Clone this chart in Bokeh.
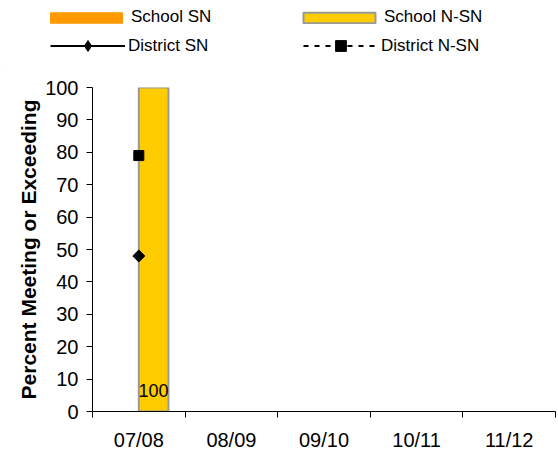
import numpy as np
from bokeh.plotting import figure
from bokeh.layouts import column
from bokeh.models import (Range1d, FixedTicker, ColumnDataSource, Legend, LegendItem)
from bokeh.core.properties import value
from bokeh.embed import file_html
from bokeh.resources import INLINE

# ---- data ----
categories = ["07/08", "08/09", "09/10", "10/11", "11/12"]
school_sn = [np.nan, np.nan, np.nan, np.nan, np.nan]
school_nsn = [100, np.nan, np.nan, np.nan, np.nan]
district_sn = [48, np.nan, np.nan, np.nan, np.nan]
district_nsn = [79, np.nan, np.nan, np.nan, np.nan]
y_ticks = [0, 10, 20, 30, 40, 50, 60, 70, 80, 90, 100]
series_names = ["School SN", "School N-SN", "District SN", "District N-SN"]

FONT = "Liberation Sans"
SN_COLOR = "#FF9900"
NSN_COLOR = "#FFCC00"
NSN_LINE = "#999999"

idx = np.arange(len(categories))
centers = idx + 0.5
bar_w = 0.32

# ---------------- main chart ----------------
p = figure(width=558, height=386, output_backend="svg", toolbar_location=None,
           x_range=Range1d(0, len(categories)), y_range=Range1d(0, 100),
           min_border_left=92, min_border_right=3, min_border_top=17, min_border_bottom=45)
p.outline_line_color = None
p.xgrid.visible = False
p.ygrid.visible = False

src = ColumnDataSource(dict(
    x_sn=centers - bar_w / 2, x_nsn=centers + bar_w / 2, xc=centers,
    sn=school_sn, nsn=school_nsn, dsn=district_sn, dnsn=district_nsn,
    lbl=["" if np.isnan(v) else str(int(v)) for v in school_nsn],
    lbl_y=[0 if not np.isnan(v) else np.nan for v in school_nsn],
))

bar_sn = dict(fill_color=SN_COLOR, line_color=SN_COLOR, line_width=1)
bar_nsn = dict(fill_color=NSN_COLOR, line_color=NSN_LINE, line_width=2)
line_sn = dict(line_color="black", line_width=2)
line_nsn = dict(line_color="black", line_width=2, line_dash="5 6")

p.vbar(x="x_sn", top="sn", bottom=0, width=bar_w, source=src, **bar_sn)
p.vbar(x="x_nsn", top="nsn", bottom=0, width=bar_w, source=src, **bar_nsn)

p.text(x="x_nsn", y="lbl_y", text="lbl", source=src, text_align="center",
       text_baseline="alphabetic", y_offset=-21, text_font=value(FONT),
       text_font_size="18px", text_color="black")

p.line(x="xc", y="dsn", source=src, **line_sn)
p.scatter(x="xc", y="dsn", source=src, marker="square", angle=np.pi / 4,
          size=8.5, fill_color="black", line_color="black")
p.line(x="xc", y="dnsn", source=src, **line_nsn)
p.scatter(x="xc", y="dnsn", source=src, marker="square", size=10,
          fill_color="black", line_color="black")

xa = p.xaxis[0]
xa.ticker = FixedTicker(ticks=list(centers), minor_ticks=list(range(len(categories) + 1)))
xa.major_label_overrides = {float(c): cat for c, cat in zip(centers, categories)}
xa.major_tick_line_color = None
xa.major_tick_out = 0
xa.major_tick_in = 0
xa.minor_tick_line_color = "black"
xa.minor_tick_out = 6
xa.minor_tick_in = 0
xa.major_label_standoff = 11
xa.major_label_text_font = FONT
xa.major_label_text_font_size = "20px"
xa.major_label_text_color = "black"
xa.axis_line_color = "black"

ya = p.yaxis[0]
ya.ticker = FixedTicker(ticks=y_ticks)
ya.major_tick_out = 6
ya.major_tick_in = 0
ya.minor_tick_line_color = None
ya.major_label_standoff = 8
ya.major_label_text_font = FONT
ya.major_label_text_font_size = "20px"
ya.major_label_text_color = "black"
ya.axis_label = "Percent Meeting or Exceeding"
ya.axis_label_text_font = FONT
ya.axis_label_text_font_style = "bold"
ya.axis_label_text_font_size = "21px"
ya.axis_label_text_color = "black"
ya.axis_label_standoff = 2

# ---------------- legend strip ----------------
lg = figure(width=558, height=70, output_backend="svg", toolbar_location=None,
            x_range=Range1d(0, 1), y_range=Range1d(0, 1),
            x_axis_location=None, y_axis_location=None,
            min_border_left=0, min_border_right=0, min_border_top=0, min_border_bottom=0)
lg.outline_line_color = None
lg.xgrid.visible = False
lg.ygrid.visible = False
for plot in (lg, p):
    try:
        plot.frame_align = False
    except Exception:
        pass
# legend keys only: one point placed outside the visible range
keysrc = ColumnDataSource(dict(x=[-5], y=[-5], top=[-5]))
g_sn = lg.vbar(x="x", top="top", width=0.1, source=keysrc, **bar_sn)
g_nsn = lg.vbar(x="x", top="top", width=0.1, source=keysrc, **bar_nsn)
g_l1 = lg.line(x="x", y="y", source=keysrc, **line_sn)
g_m1 = lg.scatter(x="x", y="y", source=keysrc, marker="diamond", color="black")
g_l2 = lg.line(x="x", y="y", source=keysrc, **line_nsn)
g_m2 = lg.scatter(x="x", y="y", source=keysrc, marker="square", color="black")

common = dict(orientation="horizontal", padding=0, margin=0, spacing=0,
              border_line_color=None, background_fill_alpha=0,
              label_text_font=FONT, label_text_font_size="17px",
              label_text_color="black")
leg1 = Legend(items=[LegendItem(label=series_names[0], renderers=[g_sn]),
                     LegendItem(label=series_names[1], renderers=[g_nsn])],
              glyph_width=90, glyph_height=13, label_height=13,
              label_standoff=0, label_width=163,
              location=(41, 43), **common)
leg2 = Legend(items=[LegendItem(label=series_names[2], renderers=[g_l1, g_m1]),
                     LegendItem(label=series_names[3], renderers=[g_l2, g_m2])],
              glyph_width=75, glyph_height=27, label_height=27,
              label_standoff=3, label_width=175,
              location=(50, 11), **common)
lg.add_layout(leg1, "center")
lg.add_layout(leg2, "center")

layout = column(lg, p, spacing=0)
open("out.html", "w").write(file_html(layout, INLINE))
